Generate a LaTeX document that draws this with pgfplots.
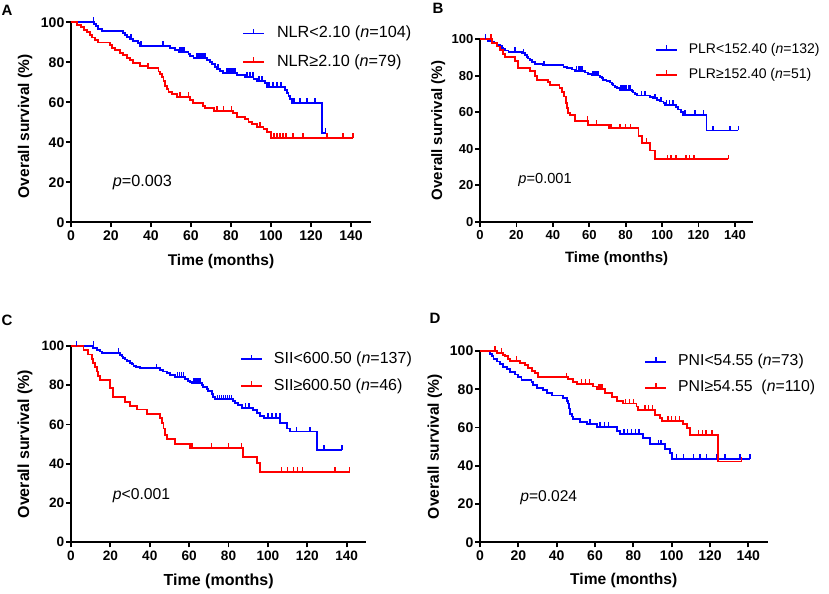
\documentclass[border=0pt]{standalone}
\usepackage{fontspec}
\setmainfont{Liberation Sans}
\usepackage{pgfplots}
\pgfplotsset{compat=1.18}
\pgfdeclareplotmark{cens}{\pgfpathmoveto{\pgfqpoint{0pt}{0pt}}\pgfpathlineto{\pgfqpoint{0pt}{4.8bp}}\pgfusepathqstroke}
\definecolor{kmblue}{RGB}{0,0,255}
\definecolor{kmred}{RGB}{255,0,0}
\pgfplotsset{
  km/.style={
    scale only axis, anchor=south west,
    axis lines=left, axis line style={line width=2bp,-},
    xmin=0, xmax=150, ymin=0, ymax=100,
    xtick={0,20,...,140}, ytick={0,20,...,100},
    tick align=outside, major tick length=5bp,
    tick style={line width=1.8bp,black},
    minor tick num=0, clip=false,
    /pgf/number format/assume math mode=true,
    xlabel={Time (months)}, ylabel={Overall survival (\%)},
    yticklabel style={inner sep=1.5bp},
    xticklabel style={inner sep=3.5bp},
    legend cell align=left,
    legend image code/.code={
      \draw[##1,line width=1.8bp] (0bp,0bp) -- (21bp,0bp);
      \draw[##1,line width=1.6bp] (10.5bp,0bp) -- (10.5bp,4.8bp);},
  },
  kmline/.style={const plot, line width=1.8bp, mark=none},
  kmcens/.style={only marks, mark=cens, mark options={line width=1.5bp}, forget plot},
}
\begin{document}
\begin{tikzpicture}
\useasboundingbox (0,0) rectangle (829bp,594bp);
% ---------------- A ----------------
\begin{axis}[km, at={(71bp,371.7bp)}, width=300bp, height=200bp,
  ticklabel style={font=\bfseries\fontsize{14bp}{16bp}\selectfont},
  label style={font=\bfseries\fontsize{15.5bp}{18bp}\selectfont},
  ylabel style={at={(axis description cs:-0.153,0.48)},anchor=center},
  xlabel style={at={(axis description cs:0.5,0)},anchor=center,yshift=-39.4bp},
  legend style={at={(axis description cs:0.57,0.8725)},anchor=west,draw=none,fill=none,inner sep=0pt,
    row sep=12.7bp, column sep=12bp, font=\fontsize{16.2bp}{19bp}\selectfont,
    nodes={inner sep=0pt,text height=12bp,text depth=4bp}}]
\addplot[kmblue,kmline] coordinates {(0,100) (11.5,99) (12.5,98) (13.5,96.5) (15.3,95.5) (26,94.5) (27,93.5) (28,92.5) (29.5,91.5) (31,90.5) (33.5,89.5) (34.5,88) (49.5,87) (52,86) (53.7,85) (58.7,84) (59.5,83) (61.2,82) (67.8,81) (69.5,80) (70.3,79) (72,77.7) (72.8,76.5) (74.5,75.5) (76,74.8) (82.8,73.8) (87,72.8) (91.2,71.7) (92.8,70.7) (97,69.6) (97.8,67.8) (107,66) (108,64.5) (108.7,63) (109.5,61.5) (110.3,59.8) (125.3,44.6) (127.3,44.6)};
\addlegendentry{NLR<2.10 (\textit{n}=104)}
\addplot[kmred,kmline] coordinates {(0,100) (3,98.7) (5,97.5) (6.5,96.2) (8,95) (9.5,93.7) (10.5,92.4) (12,91.1) (13.5,89.9) (19.5,88.6) (20.3,87.3) (22,86.1) (24.5,84.8) (26,83.5) (27.8,82.3) (29.5,81) (31,79.7) (34.5,78.3) (38.2,77) (43.7,75.4) (44.5,74) (45.3,72.5) (46.2,70.5) (47,68) (47.8,66.5) (48.7,65.3) (50.5,64) (52.8,62.8) (59.5,61.2) (61,59.8) (66,58.2) (67,57) (71.3,55.8) (81,54.5) (82.8,52.8) (87,51.5) (88.7,50.3) (90.3,49) (92.8,47.8) (96.2,46.5) (97.8,45.3) (99.8,42.3) (141,42.3)};
\addlegendentry{NLR≥2.10 (\textit{n}=79)}
\addplot[kmblue,kmcens] coordinates {(11.2,100) (30,91.5) (35,88) (46,88) (54.5,85) (55.5,85) (56.5,85) (63,82) (64,82) (65,82) (66,82) (67,82) (73.5,76.5) (78,74.8) (79,74.8) (80,74.8) (81,74.8) (82,74.8) (88,72.8) (89.5,72.8) (91,72.8) (94,70.7) (95.5,70.7) (99,67.8) (101,67.8) (103,67.8) (105,67.8) (111.5,59.8) (114.5,59.8) (118,59.8) (122,59.8) (127.3,44.6)};
\addplot[kmred,kmcens] coordinates {(38.5,77) (54.5,62.8) (58.7,62.8) (73,55.8) (76.2,55.8) (80.3,55.8) (94.5,47.8) (101.5,42.3) (103,42.3) (104.5,42.3) (106,42.3) (107.5,42.3) (111,42.3) (116,42.3) (128,42.3) (136,42.3) (141,42.3)};
\node[anchor=west,font=\fontsize{16.2bp}{19bp}\selectfont] at (axis description cs:0.128,0.1965) {\textit{p}=0.003};
\end{axis}
% ---------------- B ----------------
\begin{axis}[km, at={(480bp,372.3bp)}, width=273.2bp, height=182.4bp,
  ticklabel style={font=\bfseries\fontsize{13bp}{15bp}\selectfont},
  label style={font=\bfseries\fontsize{15bp}{18bp}\selectfont},
  ylabel style={at={(axis description cs:-0.153,0.5)},anchor=center},
  xlabel style={at={(axis description cs:0.5,0)},anchor=center,yshift=-36.6bp},
  legend style={at={(axis description cs:0.64,0.8725)},anchor=west,draw=none,fill=none,inner sep=0pt,
    row sep=11bp, column sep=11bp, font=\fontsize{14bp}{17bp}\selectfont,
    nodes={inner sep=0pt,text height=10.5bp,text depth=3.5bp}}]
\addplot[kmblue,kmline] coordinates {(0,100) (4.6,99.2) (6.4,98.5) (7.7,97.7) (9.2,97) (11,96.2) (11.9,95.4) (12.8,94.6) (13.7,93.9) (15.6,93.1) (22.9,92.3) (24.7,91.5) (25.6,90.5) (26.5,89.5) (27.5,88.5) (28.4,87.5) (30.2,86.5) (34.8,85.7) (45.8,84.9) (47.6,84.1) (50.3,83.4) (52.2,82.6) (57.6,81.8) (59.5,81) (61.3,80.2) (65.9,79.5) (66.8,78.7) (67.7,77.9) (69.5,77.1) (71.4,76.3) (72.3,75.5) (73.2,74.7) (74.1,74) (75.4,73.2) (76.9,72.4) (83.3,71.6) (84.2,70.8) (85.1,70) (86,69.2) (93.3,68.4) (95.2,67.6) (97,66.8) (98.8,65.9) (100.7,65) (101.6,64) (107.6,63) (108.9,61.5) (110.2,60) (111.3,58.5) (124.4,50) (141.8,50)};
\addlegendentry{PLR<152.40 (\textit{n}=132)}
\addplot[kmred,kmline] coordinates {(0,100) (6.4,98) (9.2,96) (11,94) (12.8,92) (13.7,90.3) (19.2,88.3) (21,84.1) (27.5,82.4) (30.2,79.9) (31.1,77.7) (37.5,76.5) (38.5,75) (43.6,73.1) (44.8,71.3) (46.1,68.6) (47,64.9) (47.6,62.2) (48.5,59.8) (49.4,58.5) (52.2,55.4) (59.5,53) (70.5,51.2) (87,47) (88.8,43) (93.3,39) (96,34.2) (136.3,34.2)};
\addlegendentry{PLR≥152.40 (\textit{n}=51)}
\addplot[kmblue,kmcens] coordinates {(3.1,100) (19.2,93.1) (24,92.3) (35,85.7) (53,82.6) (54,82.6) (55,82.6) (56,82.6) (62,80.2) (63,80.2) (64,80.2) (64.8,80.2) (77.5,72.4) (78.5,72.4) (79.5,72.4) (80.5,72.4) (81.5,72.4) (82.3,72.4) (88.8,69.2) (90.6,69.2) (96,67.6) (99.5,65.9) (102.5,64) (104,64) (106,64) (112.5,58.5) (118,58.5) (122.6,58.5) (128,50) (137.3,50) (141.8,50)};
\addplot[kmred,kmcens] coordinates {(6,100) (59,55.4) (64,53) (71,51.2) (72,51.2) (77,51.2) (80,51.2) (82.5,51.2) (91.5,43) (103,34.2) (105,34.2) (107.5,34.2) (113,34.2) (115,34.2) (117.5,34.2) (136.3,34.2)};
\node[anchor=west,font=\fontsize{14.6bp}{17bp}\selectfont] at (axis description cs:0.128,0.229) {\textit{p}=0.001};
\end{axis}
% ---------------- C ----------------
\begin{axis}[km, at={(71bp,51.7bp)}, width=295.4bp, height=196.3bp,
  ticklabel style={font=\bfseries\fontsize{13.6bp}{16bp}\selectfont},
  label style={font=\bfseries\fontsize{16bp}{18bp}\selectfont},
  ylabel style={at={(axis description cs:-0.156,0.5)},anchor=center},
  xlabel style={at={(axis description cs:0.5,0)},anchor=center,yshift=-39.4bp},
  legend style={at={(axis description cs:0.572,0.864)},anchor=west,draw=none,fill=none,inner sep=0pt,
    row sep=10.7bp, column sep=11bp, font=\fontsize{16bp}{19bp}\selectfont,
    nodes={inner sep=0pt,text height=12bp,text depth=4bp}}]
\addplot[kmblue,kmline] coordinates {(0,100) (11.3,99) (13,98) (14.7,97.2) (15.6,96.3) (24.9,95.5) (25.7,94.7) (26.6,93.9) (27.4,93.1) (28.3,92.3) (30,91.5) (30.8,90.7) (31.7,89.9) (33,89.2) (35,88.6) (45.2,87.8) (46.9,87) (48.6,86.2) (50.3,85.4) (52.8,84.2) (57.9,83.2) (59.6,82.2) (60.4,81.6) (61.3,81) (66.4,80) (67.2,79) (68.9,78) (69.7,77) (71.4,75.5) (72.3,74.2) (73.1,72.8) (82.4,71.8) (83.3,70.8) (85,69.8) (86.7,68.5) (92.6,67.2) (94.3,65.8) (96,64.5) (98,63.2) (106.1,60.6) (109.5,58) (111.2,56.4) (124.8,47) (137.5,47)};
\addlegendentry{SII<600.50 (\textit{n}=137)}
\addplot[kmred,kmline] coordinates {(0,100) (6.3,97.8) (8.8,95.7) (10.5,93.5) (11.3,91.3) (12.2,89.1) (13,87) (13.9,84.8) (14.7,82.7) (19.8,78.4) (21.5,73.9) (27.4,71.6) (30,69.4) (33.4,67.7) (38.4,65.4) (45.2,63.2) (46.1,60.6) (47,58) (47.8,54.7) (48.6,52.5) (52.8,50.1) (60.4,47.9) (87.5,43.6) (94.3,40.2) (96,36) (141.7,36)};
\addlegendentry{SII≥600.50 (\textit{n}=46)}
\addplot[kmblue,kmcens] coordinates {(2.9,100) (11.3,100) (24,96.3) (43.5,88.6) (54,84.2) (55,84.2) (56,84.2) (57,84.2) (62.5,81) (63.5,81) (64.5,81) (65.5,81) (74.5,72.8) (75.5,72.8) (76.5,72.8) (77.5,72.8) (78.5,72.8) (79.5,72.8) (80.5,72.8) (81.5,72.8) (88.5,68.5) (90.5,68.5) (100,63.2) (102,63.2) (104,63.2) (106,63.2) (114.6,56.4) (121.4,56.4) (128.5,47) (137.5,47)};
\addplot[kmred,kmcens] coordinates {(61.5,47.9) (71.4,47.9) (80,47.9) (86.7,47.9) (107,36) (110,36) (113,36) (115,36) (117.5,36) (134,36) (141.5,36)};
\node[anchor=west,font=\fontsize{15.7bp}{18bp}\selectfont] at (axis description cs:0.13,0.236) {\textit{p}<0.001};
\end{axis}
% ---------------- D ----------------
\begin{axis}[km, at={(480bp,51.7bp)}, width=287.5bp, height=191.3bp,
  ticklabel style={font=\bfseries\fontsize{14bp}{16bp}\selectfont},
  label style={font=\bfseries\fontsize{15.6bp}{18bp}\selectfont},
  ylabel style={at={(axis description cs:-0.157,0.5)},anchor=center},
  xlabel style={at={(axis description cs:0.5,0)},anchor=center,yshift=-37.7bp},
  legend style={at={(axis description cs:0.571,0.876)},anchor=west,draw=none,fill=none,inner sep=0pt,
    row sep=10bp, column sep=11bp, font=\fontsize{15.8bp}{19bp}\selectfont,
    nodes={inner sep=0pt,text height=12bp,text depth=4bp}}]
\addplot[kmblue,kmline] coordinates {(0,100) (5.2,98.6) (6.1,97.3) (7,95.9) (8.7,94.5) (10.4,93.2) (12.2,91.8) (13.9,90.4) (15.7,89) (18.3,87.7) (20,86.3) (21.7,84.9) (26.9,83.6) (27.8,82.2) (29.6,80.8) (33,79.5) (34.8,78.1) (37.4,76.7) (43.5,75.3) (45.2,74) (46.1,72.6) (46.6,69.9) (47,67.1) (47.8,65.8) (48.7,64.4) (52.2,63) (55.7,61.7) (60.9,60.3) (71.3,58.2) (73,56.5) (85.2,54.4) (88.7,51.2) (96.5,48.6) (99.1,46.5) (100,43.4) (140.9,43.4)};
\addlegendentry{PNI<54.55 (\textit{n}=73)}
\addplot[kmred,kmline] coordinates {(0,100) (8.7,99) (12.2,98.1) (13,97.2) (14.8,96) (15.7,94.8) (20.9,93.6) (23.5,92.7) (25.2,91) (27,89.5) (28.7,88.3) (30.4,86.2) (46.1,85.2) (48.7,84) (50.4,82.8) (59.1,81.4) (60.9,80) (65.2,78.2) (68.7,76.1) (71.3,74) (74.8,72.6) (81.7,71) (82.6,69.2) (91.3,66.5) (93.9,64.8) (94.8,63.6) (106.1,61.8) (107.8,59.6) (109.6,56.1) (124.3,42.2) (136.5,42.2)};
\addlegendentry{PNI≥54.55 \ (\textit{n}=110)}
\addplot[kmblue,kmcens] coordinates {(57.5,61.7) (62.5,60.3) (65,60.3) (67,60.3) (75,56.5) (77,56.5) (79,56.5) (81,56.5) (83,56.5) (93,51.2) (94.5,51.2) (102.6,43.4) (106.1,43.4) (111.3,43.4) (114.8,43.4) (118.3,43.4) (123.5,43.4) (127.8,43.4) (135.7,43.4) (140.9,43.4)};
\addplot[kmred,kmcens] coordinates {(7.8,100) (11.3,99) (19,94.8) (45,86.2) (53,82.8) (55,82.8) (57,82.8) (62,80) (63,80) (64,80) (76,72.6) (78,72.6) (80,72.6) (86,69.2) (88,69.2) (90,69.2) (98,63.6) (100,63.6) (102,63.6) (104,63.6) (114,56.1) (116,56.1) (118,56.1) (121,56.1) (136.5,42.2)};
\node[anchor=west,font=\fontsize{15.6bp}{18bp}\selectfont] at (axis description cs:0.128,0.233) {\textit{p}=0.024};
\end{axis}
% panel letters
\node[font=\bfseries\fontsize{15bp}{18bp}\selectfont] at (7bp,584bp) {A};
\node[font=\bfseries\fontsize{15bp}{18bp}\selectfont] at (438bp,586bp) {B};
\node[font=\bfseries\fontsize{15bp}{18bp}\selectfont] at (7bp,274bp) {C};
\node[font=\bfseries\fontsize{15bp}{18bp}\selectfont] at (435bp,276bp) {D};
\end{tikzpicture}
\end{document}
